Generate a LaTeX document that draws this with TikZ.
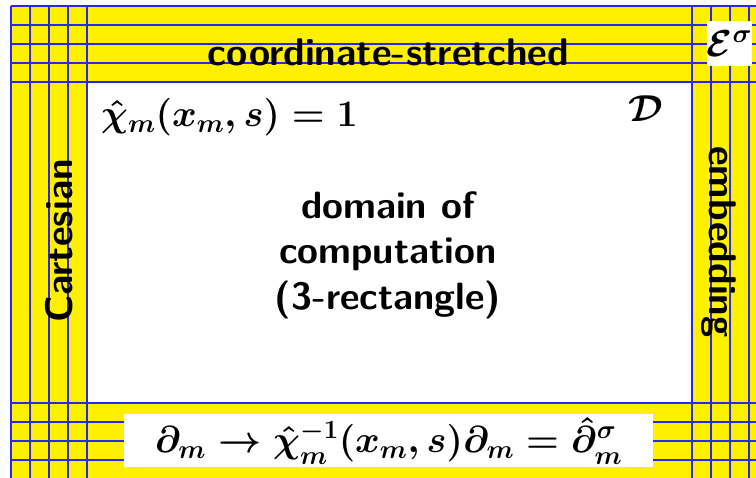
\RequirePackage{fix-cm}
\documentclass[tikz,border=0pt]{standalone}
\usepackage{amsmath}
\usepackage{tikz}
\definecolor{band}{RGB}{255,240,0}
\definecolor{grid}{RGB}{40,40,240}

\begin{document}
\begin{tikzpicture}[x=1pt, y=-1pt,
  gridline/.style={draw=grid, line width=1.4pt},
  bandlabel/.style={font=\fontsize{38.5}{44}\selectfont\sffamily\bfseries, inner sep=0pt},
  formula/.style={font=\fontsize{37.5}{42}\selectfont\boldmath, inner sep=0pt},
  patch/.style={fill=white, inner sep=0pt}
]
  \useasboundingbox (0,0) rectangle (756,478);
  \clip (0,0) rectangle (756,478);
  % stretched layers and the domain
  \fill[band] (11,6) rectangle (768,479);
  \fill[white] (87,82) rectangle (692,403);
  \foreach \x in {11,30,49,68,87,692,711,730,749}
    \draw[gridline] (\x,6) -- (\x,479);
  \foreach \y in {6,25,44,63,82,403,422,441,460}
    \draw[gridline] (11,\y) -- (768,\y);
  % labels
  \node[bandlabel, anchor=base] (stretch) at (388.5,66) {coordinate-stretched};
  \node[bandlabel, rotate=90, anchor=base] (cart) at (72,241) {Cartesian};
  \node[bandlabel, rotate=-90, anchor=base] (embed) at (709,242) {embedding};
  \node[font=\fontsize{38}{45.5}\selectfont\sffamily\bfseries, align=center, inner sep=0pt]
    (dom) at (388,255) {domain of\\computation\\(3-rectangle)};
  \node[formula, anchor=base west] (chi) at (101,127) {$\hat\chi_m(x_m,s)=1$};
  \node[formula, anchor=base] (calD) at (646,122) {$\mathcal{D}$};
  \node[formula, patch, minimum width=45, minimum height=45] (esig) at (729.5,43.5)
    {$\mathcal{E}^\sigma$};
  \node[formula, patch, minimum width=529, minimum height=53] (deriv) at (388.5,440.5)
    {$\partial_m \to \hat\chi_m^{-1}(x_m,s)\partial_m = \hat\partial_m^\sigma$};
\end{tikzpicture}
\end{document}
